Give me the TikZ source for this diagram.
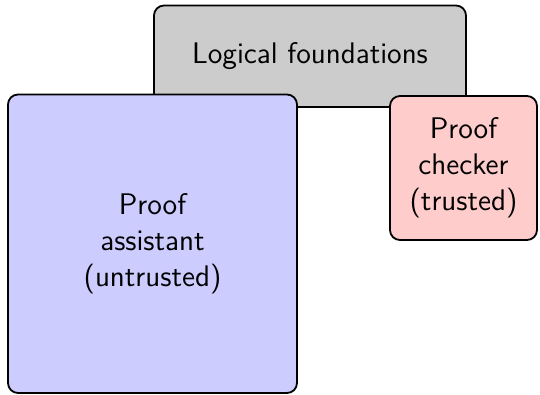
\documentclass[tikz,border=0pt]{standalone}
\begin{document}
\begin{tikzpicture}[x=0.5pt,y=-0.5pt,
  boxstyle/.style={draw=black, line width=0.9pt, rounded corners=5pt, align=center,
    inner sep=0pt, font=\sffamily\fontsize{14.9}{17.9}\selectfont},
]
\useasboundingbox (0,0) rectangle (540,395);
\node[boxstyle, fill=black!20, minimum width=156pt, minimum height=50.75pt] (logic) at (310,56.25) {Logical foundations};
\node[boxstyle, fill=blue!20, minimum width=144.5pt, minimum height=149.25pt] (assistant) at (152.5,243.75) {Proof\\assistant\\(untrusted)};
\node[boxstyle, fill=red!20, minimum width=73.5pt, minimum height=72pt] (checker) at (463.5,168) {Proof\\checker\\(trusted)};
\end{tikzpicture}
\end{document}
